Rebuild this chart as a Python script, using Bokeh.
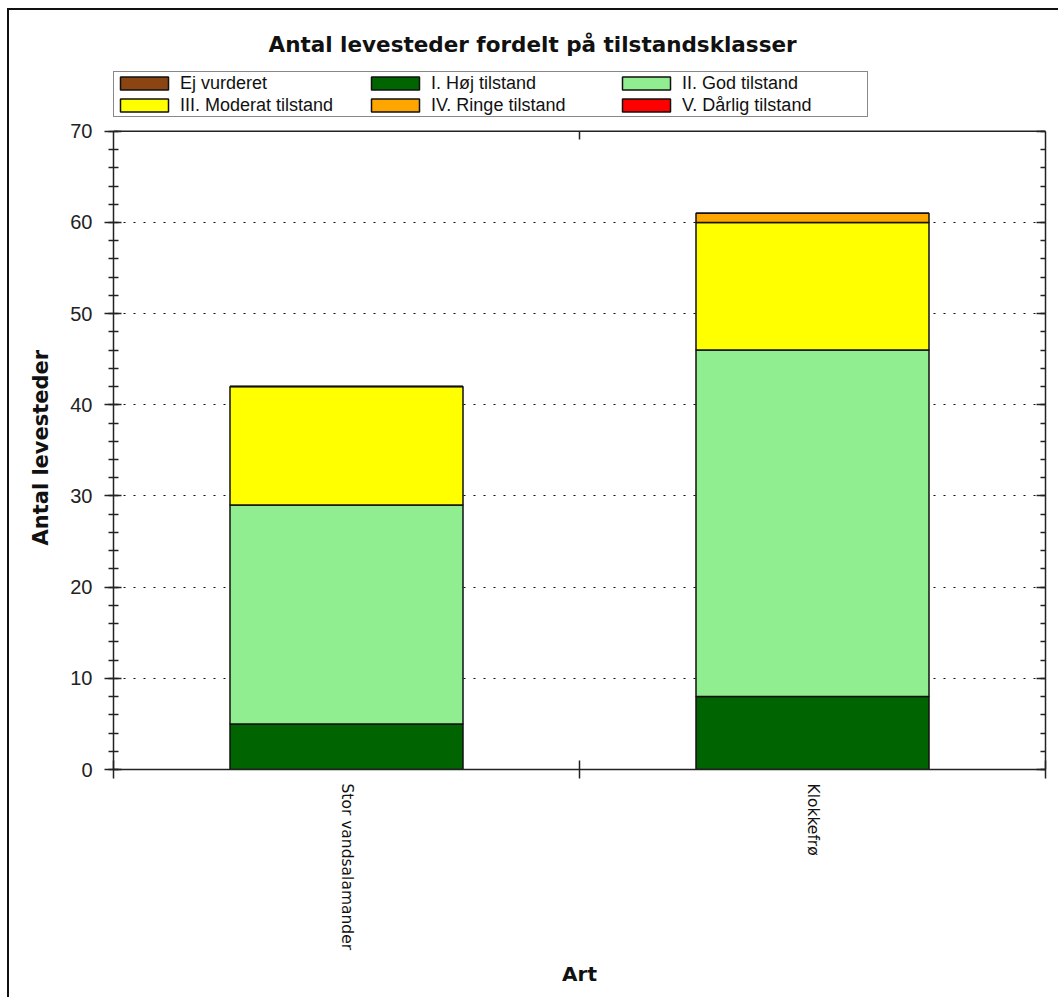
import math
from bokeh.plotting import figure
from bokeh.models import (Range1d, LinearAxis, FixedTicker, SingleIntervalTicker, Span, Title,
                          Legend, LegendItem, ColumnDataSource, CustomJSTickFormatter)
from bokeh.embed import file_html
from bokeh.resources import INLINE

# ---- data ----
categories = ["Stor vandsalamander", "Klokkefrø"]
classes = ["Ej vurderet", "I. Høj tilstand", "II. God tilstand",
           "III. Moderat tilstand", "IV. Ringe tilstand", "V. Dårlig tilstand"]
ej_vurderet = [0, 0]
hoej_tilstand = [5, 8]
god_tilstand = [24, 38]
moderat_tilstand = [13, 14]
ringe_tilstand = [0, 1]
daarlig_tilstand = [0, 0]
class_colors = ["#8B4513", "#006400", "#90EE90", "#FFFF00", "#FFA500", "#FF0000"]
y_max = 70
y_tick_step = 10

n = len(categories)
slot_centers = [i + 0.5 for i in range(n)]   # one unit slot per category
slot_edges = list(range(n + 1))
keys = ["ej", "hoej", "god", "moderat", "ringe", "daarlig"]
source = ColumnDataSource(dict(
    art=categories, slot=slot_centers, ej=ej_vurderet, hoej=hoej_tilstand, god=god_tilstand,
    moderat=moderat_tilstand, ringe=ringe_tilstand, daarlig=daarlig_tilstand))

AXIS_COLOR = "#222222"
HEADROOM = 7.0     # room above the axis box for the legend (data units)
TICK_LEN = 0.9     # length of the inner top tick (data units)
blank = CustomJSTickFormatter(code="return ''")

p = figure(x_range=Range1d(0, n), y_range=Range1d(0, y_max + HEADROOM),
           width=1051, height=989, output_backend="svg", toolbar_location=None,
           x_axis_location=None, y_axis_location="left",
           min_border_left=104, min_border_right=15, min_border_top=57, min_border_bottom=230)
p.background_fill_color = "white"
p.border_fill_color = "white"
p.outline_line_color = None
p.styles = {"margin-left": "7px", "margin-top": "8px",
            "border-left": "2px solid #111111", "border-top": "2px solid #111111"}

# title
p.title.text = "Antal levesteder fordelt på tilstandsklasser"
p.title.align = "left"
p.title.offset = 155
p.title.standoff = 22
p.title.text_font = "DejaVu Sans"
p.title.text_font_size = "21.5px"
p.title.text_font_style = "bold"
p.title.text_color = "#111111"

# bars
renderers = p.vbar_stack(keys, x="slot", width=0.5, source=source,
                         fill_color=class_colors, line_color="#111111", line_width=1.5)

# left axis
yax = p.yaxis[0]
yax.bounds = (0, y_max)
yax.ticker = SingleIntervalTicker(interval=y_tick_step, num_minor_ticks=5)
yax.major_label_text_font = "Liberation Sans"
yax.major_label_text_font_size = "20px"
yax.major_label_text_color = "#222222"
yax.major_label_standoff = 12
yax.major_tick_in = 8
yax.major_tick_out = 9
yax.minor_tick_in = 5
yax.minor_tick_out = 5
yax.axis_line_color = AXIS_COLOR
yax.axis_line_width = 1.5
yax.major_tick_line_color = AXIS_COLOR
yax.major_tick_line_width = 1.5
yax.minor_tick_line_color = AXIS_COLOR
yax.minor_tick_line_width = 1.5

# y axis title, centred on the 0..70 axis box
p.add_layout(Title(text="Antal levesteder", align="left", offset=224, standoff=30,
                   text_font="DejaVu Sans", text_font_size="21px", text_font_style="bold",
                   text_color="#111111"), "left")

# dotted horizontal grid
p.xgrid.visible = False
p.ygrid.grid_line_color = "#111111"
p.ygrid.grid_line_dash = "2 8"
p.ygrid.grid_line_width = 1.2

# top border of the axis box and its inner tick between the slots
p.add_layout(Span(location=y_max, dimension="width", line_color=AXIS_COLOR, line_width=1.5))
inner_edges = slot_edges[1:-1]
p.segment(x0=inner_edges, x1=inner_edges, y0=[y_max] * len(inner_edges),
          y1=[y_max - TICK_LEN] * len(inner_edges), line_color=AXIS_COLOR, line_width=1.5)

# right axis
rax = LinearAxis(ticker=SingleIntervalTicker(interval=y_tick_step, num_minor_ticks=5),
                 bounds=(0, y_max),
                 major_tick_in=9, major_tick_out=0, minor_tick_in=5, minor_tick_out=0,
                 formatter=blank, major_label_standoff=0,
                 axis_line_color=AXIS_COLOR, axis_line_width=1.5,
                 major_tick_line_color=AXIS_COLOR, major_tick_line_width=1.5,
                 minor_tick_line_color=AXIS_COLOR, minor_tick_line_width=1.5)
p.add_layout(rax, "right")

# bottom axis: category names at slot centres, tick marks at slot edges
bax = LinearAxis(ticker=FixedTicker(ticks=slot_centers, minor_ticks=slot_edges),
                 formatter=CustomJSTickFormatter(args=dict(cats=categories),
                                                 code="return cats[Math.floor(tick)] ?? ''"),
                 major_tick_in=0, major_tick_out=0, major_tick_line_color=None,
                 minor_tick_in=9, minor_tick_out=9,
                 minor_tick_line_color=AXIS_COLOR, minor_tick_line_width=1.5,
                 major_label_orientation=-math.pi / 2, major_label_standoff=5,
                 major_label_text_font="DejaVu Sans", major_label_text_font_size="15.5px",
                 major_label_text_color="#111111",
                 axis_line_color=AXIS_COLOR, axis_line_width=1.5,
                 axis_label="Art", axis_label_text_font="DejaVu Sans",
                 axis_label_text_font_size="20px", axis_label_text_font_style="bold",
                 axis_label_text_color="#111111", axis_label_standoff=9)
p.add_layout(bax, "below")

# legend inside the headroom, above the axis box
items = [LegendItem(label=c, renderers=[r]) for c, r in zip(classes, renderers)]
legend = Legend(items=items, location=(0, 652), orientation="horizontal", nrows=2,
                glyph_width=60, glyph_height=16, label_standoff=6, label_width=185,
                label_height=22, spacing=0, padding=0, margin=0,
                border_line_color="#111111", border_line_width=1.5,
                label_text_font="Liberation Sans", label_text_font_size="18px",
                label_text_color="#111111", background_fill_alpha=1.0)
p.add_layout(legend)

open("out.html", "w").write(file_html(p, INLINE))
